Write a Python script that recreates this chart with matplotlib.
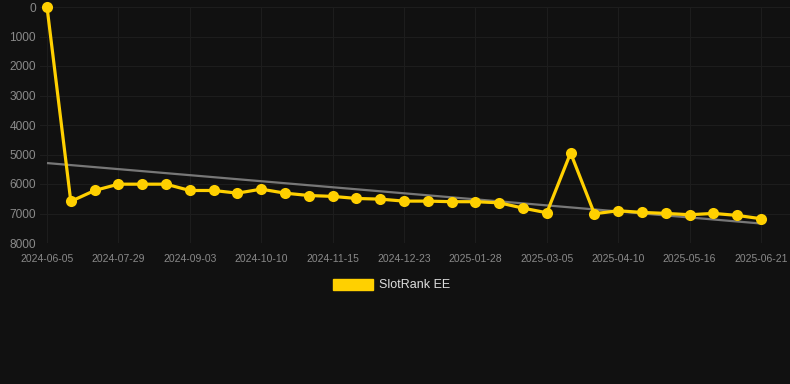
import matplotlib
matplotlib.use("Agg")
import matplotlib.pyplot as plt
import numpy as np

tick_labels = ["2024-06-05", "2024-07-29", "2024-09-03", "2024-10-10", "2024-11-15",
               "2024-12-23", "2025-01-28", "2025-03-05", "2025-04-10", "2025-05-16",
               "2025-06-21"]
values = [0, 6590, 6220, 6006, 6006, 6006, 6220, 6220, 6310, 6175, 6310, 6390, 6420,
          6490, 6513, 6580, 6580, 6600, 6600, 6637, 6817, 6975, 4946, 7008, 6907, 6963,
          6997, 7042, 6997, 7065, 7177]
series_name = "SlotRank EE"

plt.rcParams['font.family'] = ['Liberation Sans', 'DejaVu Sans']
W, H = 790, 384
fig = plt.figure(figsize=(W / 100, H / 100), dpi=100)
fig.patch.set_facecolor("#111111")

left, right, top, bottom = 40, 790, 7, 243
ax = fig.add_axes([left / W, 1 - bottom / H, (right - left) / W, (bottom - top) / H])
ax.set_facecolor("#111111")

x = np.arange(len(values))
y = np.array(values, dtype=float)

coef = np.polyfit(x, y, 1)
ax.plot(x, np.polyval(coef, x), color="#777777", lw=1.6, zorder=2, solid_capstyle="butt")
ax.plot(x, y, color="#FFD000", lw=2.3, marker="o", ms=8, markeredgewidth=0,
        zorder=3, clip_on=False)

ax.set_ylim(8000, 0)
px = (761 - 47) / 30
ax.set_xlim(-(47 - left) / px, (right - 47) / px)
ax.set_yticks(range(0, 8001, 1000))
ax.set_xticks(x[::3])
ax.set_xticklabels(tick_labels)
ax.grid(True, color="#1d1d1d", lw=0.8)
ax.set_axisbelow(True)
for s in ax.spines.values():
    s.set_visible(False)
ax.tick_params(axis="y", colors="#8a8a8a", labelsize=8.6, length=0, pad=3)
ax.tick_params(axis="x", colors="#8a8a8a", labelsize=7.5, length=0, pad=8)

# legend
lx, ly = 333, 279
fig.patches.append(plt.Rectangle((lx / W, 1 - (ly + 11) / H), 40 / W, 11 / H,
                                 transform=fig.transFigure, color="#FFD000"))
fig.text(379 / W, 1 - 284.5 / H, series_name, color="#DDDDDD", fontsize=9,
         va="center", ha="left")

fig.savefig("out.png", dpi=100, facecolor=fig.get_facecolor())
